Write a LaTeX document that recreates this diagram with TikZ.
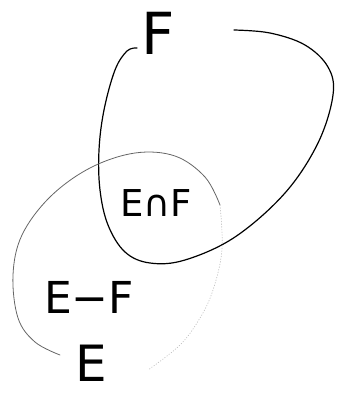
\documentclass[tikz,border=0pt]{standalone}
\usepackage{fontspec}
\setmainfont{DejaVu Sans}

\begin{document}
\begin{tikzpicture}[x=1pt,y=-1pt,line cap=round,line join=round]
\useasboundingbox (0,0) rectangle (342,394);
\tikzset{setF/.style={line width=1.2pt,black},
  setE/.style={line width=0.8pt,black!60},
  setEfaint/.style={line width=0.7pt,black!25,dotted},
  lbl/.style={inner sep=0pt,text=black}}
% set F
\draw[setF] plot[smooth,tension=0.6] coordinates {(137,48) (127,51) (115,70) (104,110) (99,150) (100,190) (108,225) (125,252) (150,263) (185,260) (235,237) (285,193) (318,143) (333,95) (328,67) (305,45) (270,33) (234,30)};
% set E
\draw[setE] plot[smooth,tension=0.6] coordinates {(60,355) (35,342) (18,318) (13,275) (22,235) (50,197) (90,168) (135,153) (175,156) (205,177) (220,205)};
\draw[setEfaint] plot[smooth,tension=0.6] coordinates {(220,205) (222,250) (213,290) (200,318) (180,345) (148,370)};
\node[lbl,font=\fontsize{58}{58}\selectfont] (labF) at (158,33) {F};
\node[lbl,font=\fontsize{37}{37}\selectfont] (labEF) at (156,203) {E∩F};
\node[lbl,font=\fontsize{44}{44}\selectfont] (labEmF) at (89,297) {E−F};
\node[lbl,font=\fontsize{50}{50}\selectfont] (labE) at (91,363) {E};
\end{tikzpicture}
\end{document}
